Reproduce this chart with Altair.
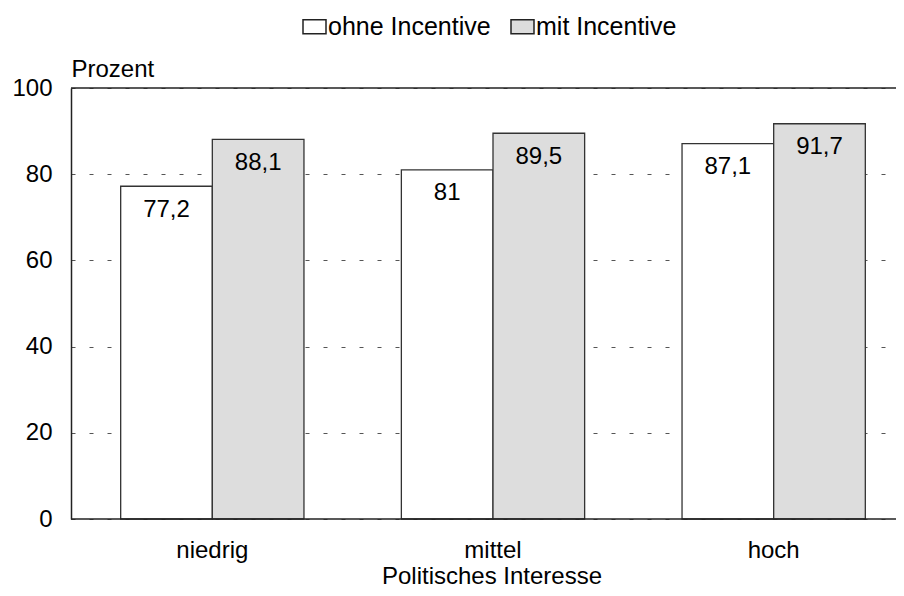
import altair as alt
import pandas as pd

categories = ["niedrig", "mittel", "hoch"]
series = ["ohne Incentive", "mit Incentive"]
ohne = [77.2, 81.0, 87.1]
mit = [88.1, 89.5, 91.7]
y_ticks = [0, 20, 40, 60, 80, 100]

rows = []
for c, a, b in zip(categories, ohne, mit):
    rows.append({"Interesse": c, "Gruppe": series[0], "Prozent": a})
    rows.append({"Interesse": c, "Gruppe": series[1], "Prozent": b})
df = pd.DataFrame(rows)
df["Label"] = df["Prozent"].map(lambda v: f"{v:g}".replace(".", ","))

FONT = "Liberation Sans"
FS = 24

x_enc = alt.X(
    "Interesse:N",
    sort=categories,
    scale=alt.Scale(range=[0, 844], paddingInner=0.347, paddingOuter=0.177),
    axis=alt.Axis(
        title="Politisches Interesse",
        labelAngle=0,
        ticks=False,
        tickSize=0,
        domain=False,
        labelPadding=38,
        labelBaseline="alphabetic",
        labelFontSize=FS,
        labelFont=FONT,
        labelColor="black",
        titleFontSize=FS,
        titleFont=FONT,
        titleFontWeight="normal",
        titleColor="black",
        titleX=420.5,
        titleY=64,
        titleAlign="center",
        titleBaseline="alphabetic",
    ),
)
xoff = alt.XOffset("Gruppe:N", sort=series, scale=alt.Scale(paddingInner=0, paddingOuter=0))
y_enc = alt.Y(
    "Prozent:Q",
    scale=alt.Scale(domain=[0, 100]),
    axis=alt.Axis(
        values=y_ticks,
        title="Prozent",
        titleAngle=0,
        titleAlign="left",
        titleBaseline="alphabetic",
        titleX=0,
        titleY=-12,
        titleFontSize=FS,
        titleFont=FONT,
        titleFontWeight="normal",
        titleColor="black",
        ticks=False,
        tickSize=0,
        labelPadding=19,
        labelFontSize=FS,
        labelFont=FONT,
        labelColor="black",
        grid=True,
        gridDash=[4, 14],
        gridColor="#555555",
        gridWidth=1,
        domainColor="#222222",
        domainWidth=1.5,
    ),
)

color = alt.Color(
    "Gruppe:N",
    sort=series,
    scale=alt.Scale(domain=series, range=["#ffffff", "#dddddd"]),
    legend=alt.Legend(
        title=None,
        orient="none",
        direction="horizontal",
        legendX=231,
        legendY=-74,
        symbolType="M-1,-0.6087H1V0.6087H-1Z",
        symbolSize=529,
        symbolStrokeColor="#222222",
        symbolStrokeWidth=1.5,
        symbolOpacity=1,
        labelFontSize=25,
        labelFont=FONT,
        labelColor="black",
        labelOffset=1,
        labelLimit=400,
        columnPadding=17,
        padding=0,
    ),
)

base = alt.Chart(df)
bars = base.mark_bar(stroke="#333333", strokeWidth=1.3).encode(
    x=x_enc, xOffset=xoff, y=y_enc, color=color
)
labels = base.mark_text(
    baseline="alphabetic", dy=30.5, fontSize=FS, font=FONT, color="black"
).encode(x=x_enc, xOffset=xoff, y=y_enc, text="Label:N")
frame = pd.DataFrame({"v": [0, 100]})
h_lines = alt.Chart(frame).mark_rule(color="#222222", strokeWidth=1.5).encode(
    y=alt.Y("v:Q")
)

chart = (
    alt.layer(bars, labels, h_lines)
    .properties(
        width=825,
        height=431,
        autosize=alt.AutoSizeParams(type="none"),
        padding={"left": 63, "top": 80, "right": 0, "bottom": 69},
        background="white",
    )
    .configure_view(stroke=None)
)

chart.save("out.html", embed_options={"renderer": "svg", "actions": False})
